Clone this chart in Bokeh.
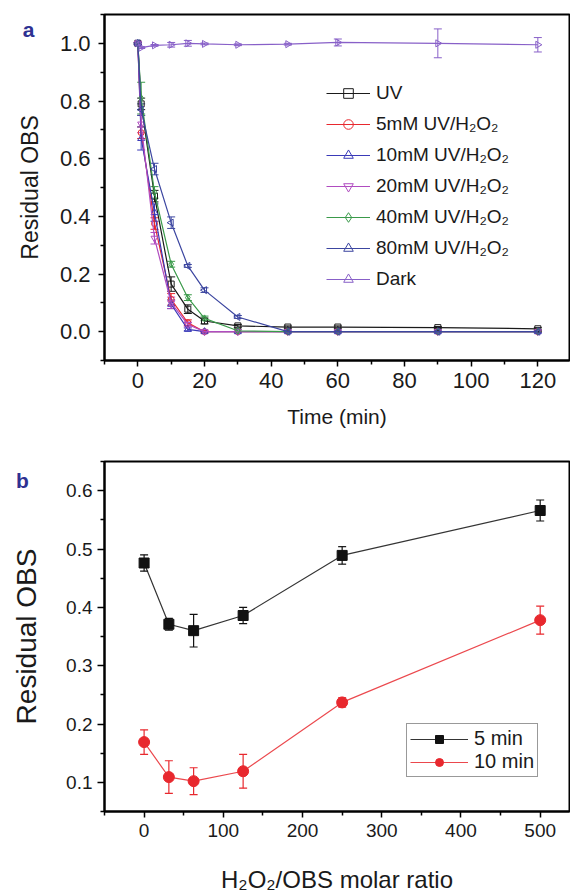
import math
from bokeh.plotting import figure
from bokeh.models import (ColumnDataSource, Whisker, TeeHead, FixedTicker,
                          PrintfTickFormatter, Legend, LegendItem, Range1d, Label)
from bokeh.layouts import column
from bokeh.embed import file_html
from bokeh.resources import INLINE

# ---------------- panel a data ----------------
time_min = [0, 1, 5, 10, 15, 20, 30, 45, 60, 90, 120]
uv = [1.0, 0.79, 0.47, 0.165, 0.078, 0.037, 0.02, 0.016, 0.016, 0.014, 0.01]
uv_err = [0.003, 0.02, 0.02, 0.025, 0.015, 0.01, 0.005, 0.004, 0.004, 0.004, 0.004]
mm5 = [1.0, 0.69, 0.375, 0.112, 0.031, 0.0, 0.0, 0.0, 0.0, 0.0, 0.0]
mm5_err = [0.003, 0.02, 0.02, 0.02, 0.01, 0.004, 0.0, 0.0, 0.0, 0.0, 0.0]
mm10 = [1.0, 0.67, 0.413, 0.095, 0.008, 0.0, 0.0, 0.0, 0.0, 0.0, 0.0]
mm10_err = [0.003, 0.04, 0.03, 0.015, 0.005, 0.0, 0.0, 0.0, 0.0, 0.0, 0.0]
mm20 = [1.0, 0.72, 0.324, 0.1, 0.025, 0.0, 0.0, 0.0, 0.0, 0.0, 0.0]
mm20_err = [0.003, 0.03, 0.02, 0.02, 0.008, 0.0, 0.0, 0.0, 0.0, 0.0, 0.0]
mm40 = [1.0, 0.81, 0.483, 0.234, 0.118, 0.046, 0.003, 0.0, 0.0, 0.0, 0.0]
mm40_err = [0.003, 0.055, 0.02, 0.01, 0.01, 0.008, 0.004, 0.0, 0.0, 0.0, 0.0]
mm80 = [1.0, 0.77, 0.564, 0.378, 0.228, 0.144, 0.051, 0.0, 0.0, 0.0, 0.0]
mm80_err = [0.003, 0.02, 0.02, 0.02, 0.005, 0.008, 0.005, 0.003, 0.003, 0.003, 0.003]
dark = [1.0, 0.985, 0.993, 0.995, 1.0, 0.998, 0.995, 0.997, 1.003, 1.0, 0.995]
dark_err = [0.003, 0.003, 0.003, 0.008, 0.01, 0.003, 0.003, 0.003, 0.012, 0.05, 0.025]

series_names = ["UV", "5mM UV/H\u2082O\u2082", "10mM UV/H\u2082O\u2082", "20mM UV/H\u2082O\u2082",
                "40mM UV/H\u2082O\u2082", "80mM UV/H\u2082O\u2082", "Dark"]

# ---------------- panel b data ----------------
ratio = [0, 31.25, 62.5, 125, 250, 500]
res_5min = [0.476, 0.371, 0.36, 0.386, 0.489, 0.566]
res_5min_err = [0.014, 0.01, 0.028, 0.014, 0.015, 0.018]
res_10min = [0.169, 0.109, 0.102, 0.119, 0.237, 0.378]
res_10min_err = [0.021, 0.028, 0.023, 0.029, 0.008, 0.024]

FONT = "Liberation Sans"
TXT = "#1a1a1a"
LETTER = "#2e3192"

def style_axes(p, tick_size, label_size, ylabel_size, xstand, ystand):
    p.xgrid.visible = False
    p.ygrid.visible = False
    p.outline_line_color = "black"
    p.outline_line_width = 2
    p.background_fill_color = "white"
    p.border_fill_color = "white"
    for ax in (p.xaxis[0], p.yaxis[0]):
        ax.axis_line_width = 2
        ax.axis_line_color = "black"
        ax.major_tick_line_width = 1.5
        ax.minor_tick_line_width = 1.5
        ax.major_tick_in = 0
        ax.minor_tick_in = 0
        ax.major_tick_out = 6
        ax.minor_tick_out = 4
        ax.major_label_text_font = FONT
        ax.major_label_text_font_size = tick_size
        ax.major_label_text_color = TXT
        ax.axis_label_text_font = FONT
        ax.axis_label_text_font_style = "normal"
        ax.axis_label_text_color = TXT
    p.xaxis[0].axis_label_text_font_size = label_size
    p.yaxis[0].axis_label_text_font_size = ylabel_size
    p.xaxis[0].axis_label_standoff = xstand
    p.yaxis[0].axis_label_standoff = ystand
    p.xaxis[0].major_label_standoff = 6
    p.yaxis[0].major_label_standoff = 8

def letter(text, x, y):
    return Label(x=x, y=y, x_units="screen", y_units="screen", text=text,
                 text_align="center", text_baseline="middle",
                 text_font=FONT, text_font_style="bold", text_font_size="21px",
                 text_color=LETTER)

# ================= panel a =================
pa = figure(width=570, height=437, output_backend="svg", toolbar_location=None,
            x_range=Range1d(-10, 129.5), y_range=Range1d(-0.1, 1.1),
            min_border_left=104, min_border_right=1, min_border_top=14, min_border_bottom=77,
            x_axis_label="Time (min)", y_axis_label="Residual OBS")
style_axes(pa, "22px", "21px", "23px", 14, 14)
pa.xaxis[0].ticker = FixedTicker(ticks=[0, 20, 40, 60, 80, 100, 120],
                                 minor_ticks=[-10, 10, 30, 50, 70, 90, 110])
pa.yaxis[0].ticker = FixedTicker(ticks=[0.0, 0.2, 0.4, 0.6, 0.8, 1.0],
                                 minor_ticks=[-0.1, 0.1, 0.3, 0.5, 0.7, 0.9, 1.1])
pa.yaxis[0].formatter = PrintfTickFormatter(format="%.1f")

colors_a = ["#1a1a1a", "#e8282e", "#3a3ab8", "#b04cc0", "#3a9a4a", "#3c46a0", "#8860c8"]
markers_a = ["square", "circle", "triangle", "inverted_triangle", "diamond", "triangle", "triangle"]
angles_a = [0, 0, 0, 0, 0, math.pi / 2, -math.pi / 2]
sizes_a = [6, 6, 7, 7, 7, 7, 7]
vals_a = [uv, mm5, mm10, mm20, mm40, mm80, dark]
errs_a = [uv_err, mm5_err, mm10_err, mm20_err, mm40_err, mm80_err, dark_err]

items_a = []
for name, col, mk, ang, sz, v, e in zip(series_names, colors_a, markers_a, angles_a, sizes_a, vals_a, errs_a):
    src = ColumnDataSource(dict(t=time_min, v=v,
                                lo=[a - b for a, b in zip(v, e)],
                                hi=[a + b for a, b in zip(v, e)]))
    pa.add_layout(Whisker(source=src, base="t", lower="lo", upper="hi",
                          line_color=col, line_width=1,
                          upper_head=TeeHead(size=8, line_color=col, line_width=1),
                          lower_head=TeeHead(size=8, line_color=col, line_width=1)))
    lr = pa.line("t", "v", source=src, line_color=col, line_width=1.2)
    sr = pa.scatter("t", "v", source=src, marker=mk, angle=ang, size=sz,
                    line_color=col, fill_color="white", fill_alpha=0.0, line_width=1)
    items_a.append(LegendItem(label=name, renderers=[lr, sr]))

leg_a = Legend(items=items_a, location=(222, 69), border_line_color=None,
               background_fill_alpha=0.0, padding=0, margin=0,
               glyph_width=44, glyph_height=24, label_height=24, spacing=7,
               label_standoff=6, label_text_font=FONT, label_text_font_size="19px",
               label_text_color=TXT)
pa.add_layout(leg_a)
# panel letter in the left side panel (x from panel left, y up from frame bottom)
pa.add_layout(letter("a", 27, 331), "left")

# ================= panel b =================
pb = figure(width=570, height=458, output_backend="svg", toolbar_location=None,
            x_range=Range1d(-50, 537), y_range=Range1d(0.05, 0.65),
            min_border_left=104, min_border_right=1, min_border_top=24, min_border_bottom=84,
            x_axis_label="H\u2082O\u2082/OBS molar ratio", y_axis_label="Residual OBS")
style_axes(pb, "19px", "24px", "28px", 26, 21)
pb.xaxis[0].ticker = FixedTicker(ticks=[0, 100, 200, 300, 400, 500],
                                 minor_ticks=[-50, 50, 150, 250, 350, 450])
pb.yaxis[0].ticker = FixedTicker(ticks=[0.1, 0.2, 0.3, 0.4, 0.5, 0.6],
                                 minor_ticks=[0.05, 0.15, 0.25, 0.35, 0.45, 0.55, 0.65])
pb.yaxis[0].formatter = PrintfTickFormatter(format="%.1f")
pb.yaxis[0].major_label_standoff = 5
pb.yaxis[0].major_tick_out = 7

items_b = []
for name, col, mk, v, e in [("5 min", "#111111", "square", res_5min, res_5min_err),
                            ("10 min", "#e8282e", "circle", res_10min, res_10min_err)]:
    src = ColumnDataSource(dict(r=ratio, v=v,
                                lo=[a - b for a, b in zip(v, e)],
                                hi=[a + b for a, b in zip(v, e)]))
    pb.add_layout(Whisker(source=src, base="r", lower="lo", upper="hi",
                          line_color=col, line_width=1.2,
                          upper_head=TeeHead(size=8, line_color=col, line_width=1.2),
                          lower_head=TeeHead(size=8, line_color=col, line_width=1.2)))
    lr = pb.line("r", "v", source=src, line_color=col, line_width=1.2, line_alpha=0.85)
    sr = pb.scatter("r", "v", source=src, marker=mk, size=11 if mk == "circle" else 10,
                    line_color=col, fill_color=col)
    items_b.append(LegendItem(label=name, renderers=[lr, sr]))

leg_b = Legend(items=items_b, location=(302, 34), border_line_color="#333333",
               border_line_width=1.2, background_fill_color="white", padding=3, margin=0,
               glyph_width=58, glyph_height=20, label_height=20, spacing=0,
               label_standoff=6, label_text_font=FONT, label_text_font_size="20px",
               label_text_line_height=1.0, label_text_color=TXT)
pb.add_layout(leg_b)
# panel letter in the top side panel (x from frame left, y up from frame top)
pb.add_layout(letter("b", -82, -19), "above")

layout = column(pa, pb, spacing=0)
open("out.html", "w").write(file_html(layout, INLINE))
